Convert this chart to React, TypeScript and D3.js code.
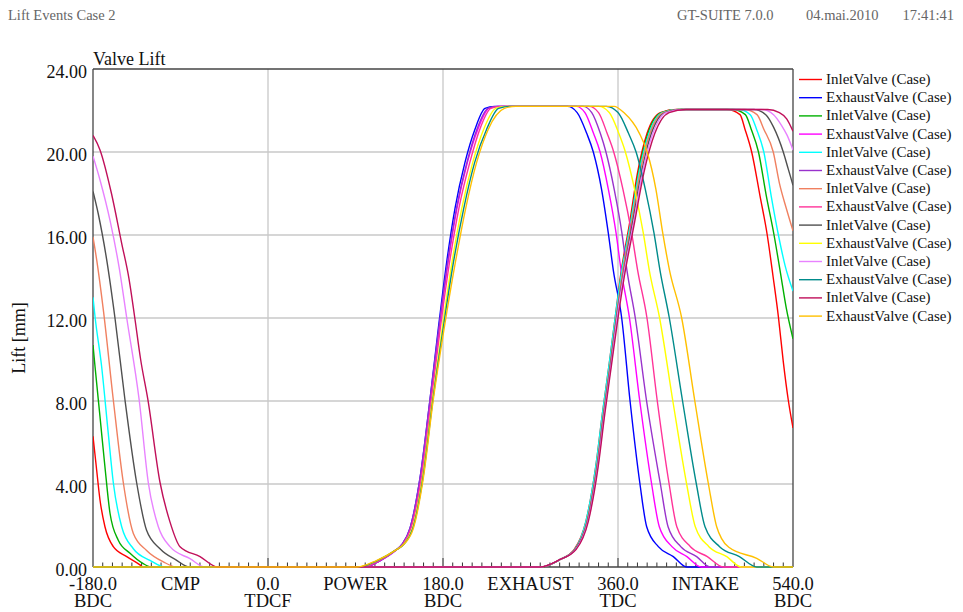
import React from "react";
import * as d3 from "d3";

// ---- data: crank angle [deg] vs valve lift [mm] ----
const seriesNames = [
  "InletValve (Case)", "ExhaustValve (Case)", "InletValve (Case)", "ExhaustValve (Case)",
  "InletValve (Case)", "ExhaustValve (Case)", "InletValve (Case)", "ExhaustValve (Case)",
  "InletValve (Case)", "ExhaustValve (Case)", "InletValve (Case)", "ExhaustValve (Case)",
  "InletValve (Case)", "ExhaustValve (Case)",
];
const seriesColors = [
  "#ff0000", "#0000ff", "#00b000", "#ff00ff", "#00ffff", "#9932cc", "#f08060",
  "#ff3399", "#505050", "#ffff00", "#e882ff", "#008b8b", "#c0105a", "#ffc000",
];

const inlet1: [number, number][] = [
  [-180, 6.3], [-176.6, 4.83], [-172.8, 3.23], [-167.7, 1.94], [-159.1, 0.98], [-145.3, 0.5], [-131.7, 0.1], [-129, 0],
  [280, 0], [300, 0.35], [315, 0.85], [327, 2.2], [337, 4.8], [344, 7.4], [351, 9.8], [357.6, 12.2], [362.5, 14],
  [372, 16.6], [380.1, 19], [389.9, 20.9], [403.6, 21.9], [420, 22.05],
  [472, 22.05], [485.5, 21.8], [490.6, 21.1], [497.5, 20], [506, 17.9], [513.5, 16], [519.5, 14], [525, 12.05],
  [530, 9.9], [535.1, 8.06], [540, 6.7],
];
const exhaust1: [number, number][] = [
  [-180, 0], [100, 0], [115, 0.3], [131, 0.8], [138, 1.1], [146, 1.86], [156.3, 4.27], [166.6, 8.06], [175.2, 11.5],
  [183.8, 14.7], [192.4, 17.3], [202.6, 19.5], [212.9, 21.1], [223.2, 22.1], [233, 22.2],
  [308, 22.2], [318, 21.9], [327.8, 20.9], [334.6, 20], [343.1, 18.2], [350, 16.1], [355.2, 14.3], [363.8, 12],
  [372.4, 8], [382.6, 4], [389.5, 1.94], [401.5, 0.98], [416.9, 0.5], [430.7, 0], [540, 0],
];
const inlet2: [number, number][] = [
  [-180, 10.7], [-177.9, 9.65], [-172.8, 7.24], [-167.7, 4.82], [-162.5, 2.59], [-154, 1.29], [-141.9, 0.66], [-128.3, 0.16], [-119.6, 0],
  [280, 0], [300, 0.35], [316, 0.85], [327.5, 2.2], [337.5, 4.8], [344.5, 7.4], [351.5, 9.8], [358.1, 12.2], [363, 14],
  [373, 16.6], [381.1, 19], [390.9, 20.9], [404.6, 21.9], [422, 22.05],
  [478, 22.05], [491, 21.8], [497, 21.1], [504.5, 20], [512.5, 17.9], [520.5, 16], [527, 14.2], [533, 12.5], [540, 11.0],
];
const exhaust2: [number, number][] = [
  [-180, 0], [100, 0], [115, 0.3], [131.5, 0.8], [138.5, 1.1], [146.5, 1.86], [156.8, 4.27], [167.1, 8.06], [176.2, 11.5],
  [185.3, 14.7], [194.4, 17.3], [205.1, 19.5], [215.9, 21.1], [227.2, 22.1], [237, 22.2],
  [317, 22.2], [326, 21.9], [334.8, 20.9], [341.6, 20], [350.1, 18.2], [358, 16.1], [363.2, 14.3], [371.8, 12],
  [382.4, 8], [394.6, 4], [402.5, 1.94], [415.5, 0.98], [430.9, 0.5], [445.7, 0], [540, 0],
];
const inlet3: [number, number][] = [
  [-180, 13.0], [-177.9, 12.06], [-171.1, 9.65], [-164.3, 6.44], [-159.1, 4.06], [-150.5, 1.94], [-138.5, 0.88], [-121.4, 0.32], [-106, 0],
  [280, 0], [300, 0.35], [315.5, 0.85], [327, 2.2], [337, 4.8], [344, 7.4], [351, 9.8], [357.6, 12.2], [363, 14],
  [373, 16.6], [381.6, 19], [391.9, 20.9], [405.6, 21.9], [423, 22.05],
  [484, 22.05], [496, 21.8], [502.5, 21.1], [510, 20], [517.5, 17.9], [525, 16], [532, 14.5], [540, 13.3],
];
const exhaust3: [number, number][] = [
  [-180, 0], [100, 0], [115, 0.3], [131, 0.8], [138, 1.1], [146, 1.86], [156.3, 4.27], [166.6, 8.06], [175.7, 11.5],
  [184.8, 14.7], [193.9, 17.3], [204.6, 19.5], [214.9, 21.1], [226.2, 22.1], [236, 22.2],
  [324, 22.2], [333, 21.9], [341.8, 20.9], [347.6, 20], [356.1, 18.2], [364, 16.1], [369.2, 14.3], [377.8, 12],
  [389.4, 8], [403.6, 4], [411.5, 1.94], [424.5, 0.98], [440.9, 0.5], [454.7, 0], [540, 0],
];
const inlet4: [number, number][] = [
  [-180, 15.9], [-176.2, 14.8], [-169.4, 12.4], [-159.1, 8.05], [-148.8, 4.06], [-138.5, 1.62], [-124.9, 0.8], [-107.7, 0.25], [-94, 0],
  [280, 0], [300, 0.35], [316, 0.85], [328, 2.2], [338, 4.8], [345, 7.4], [352, 9.8], [358.6, 12.2], [364, 14],
  [374, 16.6], [382.6, 19], [392.9, 20.9], [406.6, 21.9], [424, 22.05],
  [490, 22.05], [503, 21.8], [510, 21.1], [519.7, 20], [526, 18.5], [533, 17.3], [540, 16.2],
];
const exhaust4: [number, number][] = [
  [-180, 0], [98, 0], [114, 0.3], [131, 0.8], [139, 1.1], [147, 1.86], [157.8, 4.27], [168.1, 8.06], [177.2, 11.5],
  [186.8, 14.7], [196.4, 17.3], [207.6, 19.5], [217.9, 21.1], [229.2, 22.1], [240, 22.2],
  [330, 22.2], [340, 21.9], [348.8, 20.9], [355.6, 20], [365.1, 18.2], [374, 16.1], [380.2, 14.3], [389.8, 12],
  [400.4, 8], [412.6, 4], [420.5, 1.94], [434.5, 0.98], [451.9, 0.5], [468.7, 0], [540, 0],
];
const inlet5: [number, number][] = [
  [-180, 18.1], [-174.5, 17.0], [-165.9, 14.8], [-157.4, 12], [-147.1, 8.05], [-135.1, 4.06], [-124.9, 1.77], [-111.1, 0.88], [-93.9, 0.32], [-81, 0],
  [280, 0], [300, 0.35], [316, 0.85], [328.5, 2.2], [338.5, 4.8], [345.5, 7.4], [352.5, 9.8], [359.1, 12.2], [365, 14],
  [375, 16.6], [384.1, 19], [394.4, 20.9], [408.6, 21.9], [426, 22.05],
  [500, 22.05], [512, 21.8], [520, 21.2], [530, 20], [535, 19.2], [540, 18.4],
];
const exhaust5: [number, number][] = [
  [-180, 0], [94, 0], [112, 0.3], [131, 0.8], [139.5, 1.1], [148.5, 1.86], [158.8, 4.27], [169.1, 8.06], [179.2, 11.5],
  [189.3, 14.7], [199.4, 17.3], [210.6, 19.5], [221.9, 21.1], [234.2, 22.1], [245, 22.2],
  [340, 22.2], [351, 21.9], [360.8, 20.9], [367.6, 20], [377.1, 18.2], [386, 16.1], [392.2, 14.3], [402.8, 12],
  [416.4, 8], [430.6, 4], [439.5, 1.94], [453.5, 0.98], [471.9, 0.5], [486.7, 0], [540, 0],
];
const inlet6: [number, number][] = [
  [-180, 19.8], [-172.8, 18.65], [-162.5, 16.7], [-153, 14.4], [-145.3, 12], [-132.5, 8.05], [-123.1, 4.06], [-112.8, 1.94], [-100.8, 0.98], [-80.2, 0.4], [-65, 0],
  [280, 0], [300, 0.35], [316.5, 0.85], [329, 2.2], [339, 4.8], [346, 7.4], [353, 9.8], [359.6, 12.2], [365.5, 14],
  [376, 16.6], [385.1, 19], [395.9, 20.9], [409.6, 21.9], [428, 22.05],
  [508, 22.05], [520, 21.8], [528, 21.3], [534, 20.8], [540, 20.1],
];
const exhaust6: [number, number][] = [
  [-180, 0], [94, 0], [112, 0.3], [131, 0.8], [140, 1.1], [149, 1.86], [159.3, 4.27], [169.6, 8.06], [180.2, 11.5],
  [190.8, 14.7], [201.4, 17.3], [212.6, 19.5], [224.9, 21.1], [237.2, 22.1], [249, 22.2],
  [348, 22.2], [360, 21.9], [370.8, 20.9], [378.6, 20], [388.1, 18.2], [397, 16.1], [403.2, 14.3], [412.8, 12],
  [426.4, 8], [440.6, 4], [449.5, 1.94], [464.5, 0.98], [484.9, 0.5], [502.7, 0], [540, 0],
];
const inlet7: [number, number][] = [
  [-180, 20.8], [-172.8, 20.1], [-161, 18.0], [-150.5, 15.6], [-143, 13.9], [-137, 12], [-131, 10], [-123.5, 8.05],
  [-111, 4.06], [-101, 2.2], [-90.5, 0.98], [-69.9, 0.5], [-52, 0],
  [280, 0], [300, 0.35], [317, 0.85], [329.5, 2.2], [339.5, 4.8], [346.5, 7.4], [353.5, 9.8], [360.6, 12.2], [366.5, 14],
  [377, 16.6], [386.6, 19], [397.9, 20.9], [412.6, 21.9], [430, 22.05],
  [514, 22.05], [526, 21.9], [533.5, 21.6], [540, 21.0],
];
const exhaust7: [number, number][] = [
  [-180, 0], [92, 0], [111, 0.3], [131, 0.8], [140, 1.1], [149.5, 1.86], [159.7, 4.27], [170, 8.06], [181.2, 11.5],
  [192.8, 14.7], [203.4, 17.3], [214.6, 19.5], [226.6, 21.1], [243.2, 22.1], [255, 22.2],
  [356, 22.2], [366, 21.9], [382, 20.9], [390, 20], [399, 18.2], [406, 16.1], [413, 14.3], [425.5, 12],
  [439, 8], [453, 4], [461.5, 1.94], [466.4, 1.38], [474, 0.95], [502.7, 0.42], [520, 0], [540, 0],
];

const seriesData = [
  inlet1, exhaust1, inlet2, exhaust2, inlet3, exhaust3, inlet4,
  exhaust4, inlet5, exhaust5, inlet6, exhaust6, inlet7, exhaust7,
];

const yTicks = [0, 4, 8, 12, 16, 20, 24];
const xGrid = [0, 180, 360];
const xLabelsTop = [
  { v: -180, t: "-180.0" }, { v: -90, t: "CMP" }, { v: 0, t: "0.0" }, { v: 90, t: "POWER" },
  { v: 180, t: "180.0" }, { v: 270, t: "EXHAUST" }, { v: 360, t: "360.0" }, { v: 450, t: "INTAKE" },
  { v: 540, t: "540.0" },
];
const xLabelsBottom = [
  { v: -180, t: "BDC" }, { v: 0, t: "TDCF" }, { v: 180, t: "BDC" }, { v: 360, t: "TDC" }, { v: 540, t: "BDC" },
];

const W = 963;
const H = 612;
const plot = { left: 93, right: 793, top: 69, bottom: 567 };
const serif = "'Liberation Serif', 'Times New Roman', 'DejaVu Serif', serif";

export default function App() {
  const x = d3.scaleLinear().domain([-180, 540]).range([plot.left, plot.right]);
  const y = d3.scaleLinear().domain([0, 24]).range([plot.bottom, plot.top]);
  const line = d3
    .line<[number, number]>()
    .x((d) => x(d[0]))
    .y((d) => y(d[1]))
    .curve(d3.curveMonotoneX);

  const minorTicks = d3.range(-170, 540, 10).filter((v) => v % 180 !== 0);
  const fmt = d3.format(".2f");

  return (
    <svg
      width={W}
      height={H}
      viewBox={`0 0 ${W} ${H}`}
      style={{ position: "absolute", left: 0, top: 0, background: "#fff", fontFamily: serif }}
    >
      {/* header */}
      <g fill="#666" fontSize={14.5}>
        <text x={8} y={20}>Lift Events Case 2</text>
        <text x={677} y={20}>GT-SUITE 7.0.0</text>
        <text x={806} y={20}>04.mai.2010</text>
        <text x={954} y={20} textAnchor="end">17:41:41</text>
      </g>

      <text x={plot.left} y={65} fontSize={18} fill="#111">Valve Lift</text>
      <text
        transform={`translate(25, ${(plot.top + plot.bottom) / 2 + 20}) rotate(-90)`}
        textAnchor="middle"
        fontSize={18}
        fill="#111"
      >
        Lift [mm]
      </text>

      <defs>
        <clipPath id="plot-clip">
          <rect x={plot.left} y={plot.top - 2} width={plot.right - plot.left} height={plot.bottom - plot.top + 3} />
        </clipPath>
      </defs>

      {/* grid */}
      <g stroke="#c8c8c8" strokeWidth={1.3}>
        {yTicks.filter((v) => v > 0 && v < 24).map((v) => (
          <line key={`gy${v}`} x1={plot.left} x2={plot.right} y1={y(v)} y2={y(v)} />
        ))}
        {xGrid.map((v) => (
          <line key={`gx${v}`} x1={x(v)} x2={x(v)} y1={plot.top} y2={plot.bottom} />
        ))}
      </g>

      {/* ticks on the angle axis */}
      <g stroke="#333" strokeWidth={1}>
        {minorTicks.map((v) => (
          <line key={`t${v}`} x1={x(v)} x2={x(v)} y1={plot.bottom} y2={plot.bottom - 4.5} />
        ))}
        {xGrid.map((v) => (
          <line key={`T${v}`} x1={x(v)} x2={x(v)} y1={plot.bottom} y2={plot.bottom - 9} />
        ))}
      </g>

      {/* frame */}
      <g stroke="#444" strokeWidth={1.3} fill="none">
        <line x1={plot.left} x2={plot.right} y1={plot.top} y2={plot.top} />
        <line x1={plot.right} x2={plot.right} y1={plot.top} y2={plot.bottom} />
        <line x1={plot.left} x2={plot.left} y1={plot.top} y2={plot.bottom} />
        <line x1={plot.left} x2={plot.right} y1={plot.bottom} y2={plot.bottom} />
      </g>

      {/* curves */}
      <g clipPath="url(#plot-clip)" fill="none" strokeWidth={1.4} strokeLinejoin="round">
        {seriesData.map((s, i) => (
          <path key={`s${i}`} d={line(s) ?? ""} stroke={seriesColors[i]} />
        ))}
      </g>

      {/* y tick labels */}
      <g fontSize={18} fill="#111" textAnchor="end">
        {yTicks.map((v) => (
          <text key={`yl${v}`} x={87} y={y(v) + 9}>{fmt(v)}</text>
        ))}
      </g>

      {/* x labels */}
      <g fontSize={18.5} fill="#111" textAnchor="middle">
        {xLabelsTop.map((d) => (
          <text key={`xl${d.v}`} x={x(d.v)} y={590}>{d.t}</text>
        ))}
        {xLabelsBottom.map((d) => (
          <text key={`xb${d.v}`} x={x(d.v)} y={607}>{d.t}</text>
        ))}
      </g>

      {/* legend */}
      <g fontSize={15} fill="#111">
        {seriesNames.map((n, i) => {
          const ly = 79.5 + i * 18.2;
          return (
            <g key={`lg${i}`}>
              <line x1={799} x2={822} y1={ly} y2={ly} stroke={seriesColors[i]} strokeWidth={1.4} />
              <text x={826} y={ly + 4.5}>{n}</text>
            </g>
          );
        })}
      </g>
    </svg>
  );
}
